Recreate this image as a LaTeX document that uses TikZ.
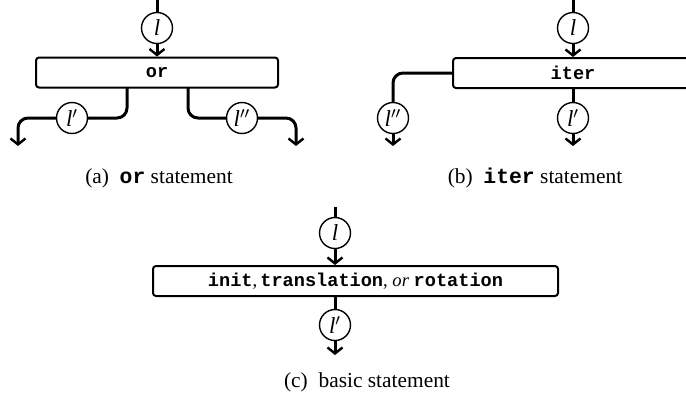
\documentclass[tikz,border=0pt]{standalone}
\usepackage{fontspec}
\setmainfont{Liberation Serif}
\setmonofont{Liberation Mono}
\usetikzlibrary{positioning,arrows.meta}

\newcommand{\kw}[1]{\texttt{\bfseries #1}}
\newcommand{\lab}[1]{\textit{l}#1}

\begin{document}
\begin{tikzpicture}[x=0.5pt,y=-0.5pt,
  conn/.style={line width=1.5pt},
  arr/.style={-{Straight Barb[length=3pt,width=7.5pt,line width=1.2pt]}},
  lbl/.style={circle,draw,fill=white,line width=0.7pt,minimum size=15.5pt,inner sep=0pt,font=\fontsize{11.5}{11.5}\selectfont},
  stmt/.style={draw,rounded corners=1.5pt,line width=1pt,minimum height=15pt,inner sep=0pt,font=\fontsize{9.3}{10}\selectfont},
  subcap/.style={font=\fontsize{10.7}{12}\selectfont}]
\useasboundingbox (0,0) rectangle (686,404);

% (a) or
\node[stmt,minimum width=121pt] (or) at (157,72.5) {\kw{or}};
\node[lbl] (la) at (157,28) {\lab{}};
\node[lbl] (lpa) at (72,118) {\lab{$'$}};
\node[lbl] (lppa) at (242,118) {\lab{$''$}};
\coordinate (ta) at (157,0);
\coordinate (oa1) at (127,88);
\coordinate (oa2) at (188,88);
\coordinate (ea1) at (18,146);
\coordinate (ea2) at (296,146);
\draw[conn] (ta) -- (la);
\draw[conn,arr] (la) -- (or);
\draw[conn,rounded corners=5pt] (oa1) |- (lpa);
\draw[conn,arr,rounded corners=5pt] (lpa) -| (ea1);
\draw[conn,rounded corners=5pt] (oa2) |- (lppa);
\draw[conn,arr,rounded corners=5pt] (lppa) -| (ea2);
\node[subcap] (capa) at (159,178) {(a)\enspace\kw{or} statement};

% (b) iter
\node[stmt,minimum width=120pt] (iter) at (573,73) {\kw{iter}};
\node[lbl] (lb) at (573,28) {\lab{}};
\node[lbl] (lpb) at (573,118) {\lab{$'$}};
\node[lbl] (lppb) at (393,118) {\lab{$''$}};
\coordinate (tb) at (573,0);
\coordinate (eb1) at (573,146);
\coordinate (eb2) at (393,146);
\draw[conn] (tb) -- (lb);
\draw[conn,arr] (lb) -- (iter);
\draw[conn] (iter) -- (lpb);
\draw[conn,arr] (lpb) -- (eb1);
\draw[conn,rounded corners=5pt] (iter.west) -| (lppb);
\draw[conn,arr] (lppb) -- (eb2);
\node[subcap] (capb) at (535,178) {(b)\enspace\kw{iter} statement};

% (c) basic
\node[stmt,minimum width=202.5pt] (basic) at (355.5,281) {\kw{init},\,\kw{translation}, \textit{or} \kw{rotation}};
\node[lbl] (lc) at (335,233) {\lab{}};
\node[lbl] (lpc) at (335,325) {\lab{$'$}};
\coordinate (tc) at (335,207);
\coordinate (ec) at (335,355);
\draw[conn] (tc) -- (lc);
\draw[conn,arr] (lc) -- (lc |- basic.north);
\draw[conn] (lc |- basic.south) -- (lpc);
\draw[conn,arr] (lpc) -- (ec);
\node[subcap] (capc) at (367,382) {(c)\enspace basic statement};
\end{tikzpicture}
\end{document}
